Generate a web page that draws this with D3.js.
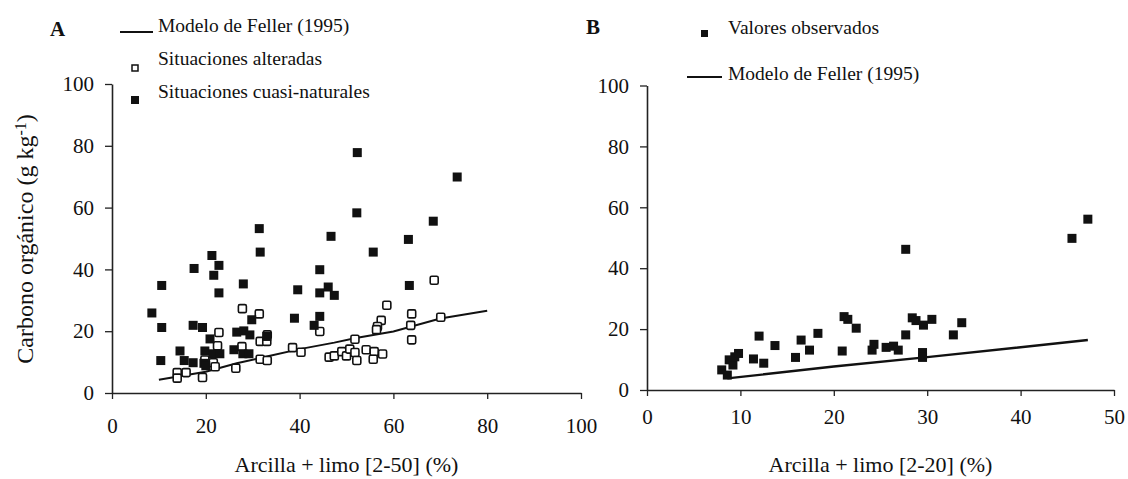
<!DOCTYPE html>
<html><head><meta charset="utf-8">
<script src="https://cdnjs.cloudflare.com/ajax/libs/d3/7.8.5/d3.min.js"></script>
<style>
body{margin:0;background:#fff;}
svg text{font-family:"Liberation Serif","Times New Roman",Times,"DejaVu Serif",serif !important;fill:#111;}
</style></head>
<body><svg id="c" width="1128" height="479" font-family="Liberation Serif"></svg>
<script>
// ---- Panel A data: Arcilla + limo [2-50] (%) vs Carbono orgánico (g kg-1)
const aNaturalX = [8.5,10.6,10.6,10.4,14.5,15.4,17.3,17.5,17.3,19.3,19.8,19.6,20.0,21.3,22.8,21.7,22.8,20.9,21.5,23.0,28.0,31.4,31.6,26.6,28.1,29.4,29.8,26.0,27.9,29.2,33.0,38.9,39.6,44.3,44.3,46.1,47.4,44.3,43.1,46.7,52.2,52.3,73.6,68.5,63.2,55.7,63.4];
const aNaturalY = [25.9,34.8,21.2,10.5,13.6,10.5,9.8,40.3,21.9,21.2,13.6,9.6,8.8,44.5,41.3,38.1,32.4,17.5,12.7,12.7,35.3,53.2,45.6,19.7,20.1,18.8,23.7,14.0,12.7,12.7,18.3,24.2,33.4,39.9,32.4,34.3,31.6,24.8,21.9,50.7,58.3,77.8,69.9,55.6,49.7,45.6,34.8];
const aAlteredX = [13.9,13.9,15.8,19.3,19.8,21.6,22.0,22.8,22.5,26.4,27.8,27.7,31.4,31.6,33.1,33.0,31.6,33.1,38.5,40.3,44.3,46.3,47.4,49.0,50.0,50.7,51.8,51.8,52.2,54.2,55.9,57.7,55.7,58.6,57.4,56.6,56.4,63.9,63.7,63.9,68.7,70.1];
const aAlteredY = [6.6,4.8,6.6,5.0,10.7,9.8,8.5,19.6,15.3,8.0,27.3,15.0,25.6,16.7,18.8,16.7,10.9,10.5,14.7,13.2,19.9,11.6,12.0,13.4,12.0,14.2,17.4,13.1,10.5,14.0,13.4,12.6,10.9,28.4,23.5,21.5,20.5,25.6,21.9,17.2,36.5,24.5];
const aModelX = [10,20,26.6,33,40,47.4,52,60,70,80];
const aModelY = [4.3,6.9,9.6,11.8,14.2,16.3,17.8,19.9,24.1,26.6];

// ---- Panel B data: Arcilla + limo [2-20] (%)
const bObsX = [8.0,8.6,8.8,9.2,9.4,9.8,11.4,12.5,12.0,13.7,15.9,16.5,17.4,18.3,20.9,21.1,21.5,22.4,24.1,24.3,25.6,26.4,26.9,27.7,27.7,28.4,28.8,29.6,30.5,29.5,29.5,32.8,33.7,45.5,47.2];
const bObsY = [6.6,4.9,9.9,8.2,10.9,12.0,10.2,8.8,17.7,14.6,10.7,16.4,13.1,18.6,12.8,24.1,23.2,20.3,13.1,15.0,14.0,14.4,13.1,46.2,18.1,23.7,22.8,21.3,23.2,12.3,10.7,18.1,22.1,49.8,56.1];
const bModelX = [8.6,20,30,47.2];
const bModelY = [3.8,7.7,10.8,16.4];

const xTicksA = [0,20,40,60,80,100];
const xTicksB = [0,10,20,30,40,50];
const yTicks = [0,20,40,60,80,100];

const FONT = '"Liberation Serif","Times New Roman",Times,serif';
const svg = d3.select("#c");

function panel(opts){
  const {x, y, xTicks, xTitle, tickBase, panelLabel, labelPos} = opts;
  const g = svg.append("g");
  const xa = d3.axisBottom(x).tickValues(xTicks).tickSize(6).tickSizeOuter(0).tickPadding(tickBase - 6 - 15);
  const gx = g.append("g").attr("transform",`translate(0,${y(0)})`).call(xa).attr("font-family",FONT);
  gx.select(".domain").attr("stroke","#222").attr("stroke-width",1.6);
  gx.selectAll(".tick line").attr("stroke","#222").attr("stroke-width",1.3);
  gx.selectAll(".tick text").style("font-size","21px").style("font-family",FONT).attr("fill","#111");
  const ya = d3.axisLeft(y).tickValues(yTicks).tickSize(7).tickSizeOuter(0).tickPadding(11);
  const gy = g.append("g").attr("transform",`translate(${x(0)},0)`).call(ya).attr("font-family",FONT);
  gy.select(".domain").attr("stroke","#222").attr("stroke-width",1.6);
  gy.selectAll(".tick line").attr("stroke","#222").attr("stroke-width",1.3);
  gy.selectAll(".tick text").style("font-size","21px").style("font-family",FONT).attr("fill","#111");
  g.append("text").attr("x",(x.range()[0]+x.range()[1])/2).attr("y",472)
    .attr("text-anchor","middle").style("font-size","22px").style("font-family",FONT).text(xTitle);
  g.append("text").attr("x",labelPos[0]).attr("y",labelPos[1])
    .style("font-size","21px").style("font-weight","bold").style("font-family",FONT).text(panelLabel);
  return g;
}

// ---------- Panel A
const xA = d3.scaleLinear().domain([0,100]).range([112,581]);
const yA = d3.scaleLinear().domain([0,100]).range([393,84]);
const gA = panel({x:xA,y:yA,xTicks:xTicksA,xTitle:"Arcilla + limo [2-50] (%)",tickBase:40,panelLabel:"A",labelPos:[50,36]});

const yl = svg.append("text").attr("transform","translate(33,239) rotate(-90)")
  .attr("text-anchor","middle").style("font-size","24px").style("font-family",FONT);
yl.append("tspan").text("Carbono orgánico (g kg");
yl.append("tspan").attr("dy","-0.45em").style("font-size","16px").text("-1");
yl.append("tspan").attr("dy","0.3em").text(")");

const line = (xs,ys,x,y)=> d3.line().x((d,i)=>x(xs[i])).y((d,i)=>y(ys[i]))(xs);
gA.append("path").attr("d",line(aModelX,aModelY,xA,yA)).attr("fill","none").attr("stroke","#111").attr("stroke-width",2);

const sq = 9, sqo = 8;
gA.selectAll("rect.alt").data(aAlteredX).join("rect").attr("class","alt")
  .attr("x",(d,i)=>xA(d)-sqo/2).attr("y",(d,i)=>yA(aAlteredY[i])-sqo/2)
  .attr("width",sqo).attr("height",sqo).attr("rx",1.5)
  .attr("fill","#fff").attr("stroke","#111").attr("stroke-width",1.6);
gA.selectAll("rect.nat").data(aNaturalX).join("rect").attr("class","nat")
  .attr("x",(d,i)=>xA(d)-sq/2).attr("y",(d,i)=>yA(aNaturalY[i])-sq/2)
  .attr("width",sq).attr("height",sq).attr("fill","#111");

// legend A
const lg = (x,y,t)=>svg.append("text").attr("x",x).attr("y",y).style("font-size","19.5px").style("font-family",FONT).text(t);
svg.append("line").attr("x1",120).attr("x2",153).attr("y1",32).attr("y2",32).attr("stroke","#111").attr("stroke-width",2);
lg(158,32,"Modelo de Feller (1995)");
svg.append("rect").attr("x",132).attr("y",65).attr("width",6).attr("height",6).attr("fill","#fff").attr("stroke","#111").attr("stroke-width",1.5);
lg(158,65,"Situaciones alteradas");
svg.append("rect").attr("x",131).attr("y",96).attr("width",8).attr("height",8).attr("fill","#111");
lg(158,98,"Situaciones cuasi-naturales");

// ---------- Panel B
const xB = d3.scaleLinear().domain([0,50]).range([647,1114]);
const yB = d3.scaleLinear().domain([0,100]).range([390,85.5]);
const gB = panel({x:xB,y:yB,xTicks:xTicksB,xTitle:"Arcilla + limo [2-20] (%)",tickBase:34,panelLabel:"B",labelPos:[586,34]});
gB.append("path").attr("d",line(bModelX,bModelY,xB,yB)).attr("fill","none").attr("stroke","#111").attr("stroke-width",2.4);
gB.selectAll("rect.obs").data(bObsX).join("rect").attr("class","obs")
  .attr("x",(d,i)=>xB(d)-sq/2).attr("y",(d,i)=>yB(bObsY[i])-sq/2)
  .attr("width",sq).attr("height",sq).attr("fill","#111");

// legend B
svg.append("rect").attr("x",701).attr("y",30).attr("width",7).attr("height",7).attr("fill","#111");
lg(728,34,"Valores observados");
svg.append("line").attr("x1",687).attr("x2",722).attr("y1",77).attr("y2",77).attr("stroke","#111").attr("stroke-width",2);
lg(728,80,"Modelo de Feller (1995)");
</script></body></html>
